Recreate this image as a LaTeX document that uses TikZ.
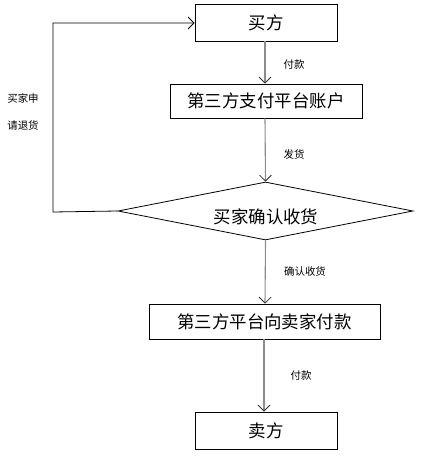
\documentclass[tikz,border=0pt]{standalone}
\usepackage{fontspec}
\newfontfamily\cjk{Noto Sans CJK SC}
\usetikzlibrary{arrows.meta,shapes.geometric}
\tikzset{
  boxnode/.style={draw=black,line width=0.8bp,inner sep=0pt,font=\cjk\fontsize{17.5}{20}\selectfont},
  lbl/.style={font=\cjk\fontsize{10.5}{13}\selectfont,inner sep=0pt},
  flow/.style={draw=gray!90,line width=1.1bp,-{Straight Barb[length=6bp,width=12bp,line width=0.8bp,color=black!80]}},
  back/.style={draw=black,line width=0.8bp,-{Straight Barb[length=6bp,width=12bp]}}
}
\begin{document}
\begin{tikzpicture}[x=1bp,y=-1bp]
\useasboundingbox[fill=white] (0,0) rectangle (425,456);
\node[boxnode,minimum width=142bp,minimum height=37bp] (buyer) at (266,22.5) {买方};
\node[boxnode,minimum width=192bp,minimum height=34bp] (acct) at (266,101) {第三方支付平台账户};
\node[boxnode,draw,diamond,aspect=5.1,minimum width=295bp,minimum height=58bp] (dec) at (265.5,211) {};
\node[font=\cjk\fontsize{17.5}{20}\selectfont,inner sep=0pt] (dtext) at (266,217) {买家确认收货};
\node[boxnode,minimum width=231bp,minimum height=35bp] (pay) at (264.5,321.5) {第三方平台向卖家付款};
\node[boxnode,minimum width=142bp,minimum height=37bp] (seller) at (266,430.5) {卖方};
\draw[flow] (buyer.south -| 265,0) -- (acct.north -| 265,0);
\draw[flow] (acct.south -| 265,0) -- (dec.north);
\draw[flow] (dec.south) -- (pay.north -| 265,0);
\draw[flow] (pay.south -| 264,0) -- (seller.north -| 264,0);
\coordinate (c1) at (53,212);
\coordinate (c2) at (53,23);
\draw[back] (dec.west) -- (c1) -- (c2) -- (buyer.west |- c2);
\node[lbl] (l1) at (294,65) {付款};
\node[lbl] (l2) at (294,155) {发货};
\node[lbl] (l3) at (305,272) {确认收货};
\node[lbl] (l4) at (301,376) {付款};
\node[lbl,align=left] (l5) at (23,112) {买家申\\[15bp]请退货};
\end{tikzpicture}
\end{document}
